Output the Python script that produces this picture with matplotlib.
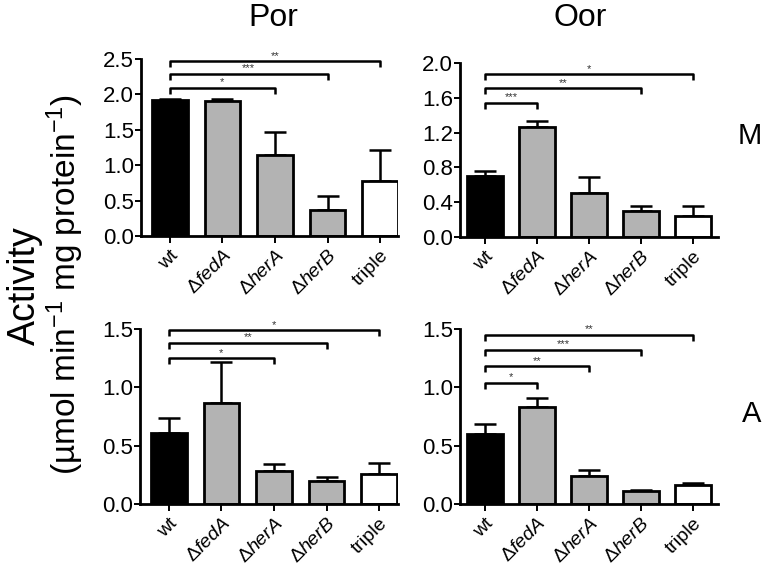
import matplotlib
matplotlib.use("Agg")
import matplotlib.pyplot as plt
import numpy as np

plt.rcParams['font.family'] = ['Liberation Sans', 'DejaVu Sans']
plt.rcParams['mathtext.fontset'] = 'custom'
plt.rcParams['mathtext.rm'] = 'Liberation Sans'
plt.rcParams['mathtext.it'] = 'Liberation Sans:italic'

strains = ["wt", "fedA", "herA", "herB", "triple"]
colors = ["#000000", "#b3b3b3", "#b3b3b3", "#b3b3b3", "#ffffff"]

por_m = [1.92, 1.90, 1.15, 0.37, 0.77]
por_m_err = [0.01, 0.03, 0.32, 0.19, 0.44]
oor_m = [0.70, 1.26, 0.51, 0.30, 0.24]
oor_m_err = [0.06, 0.07, 0.18, 0.06, 0.12]
por_a = [0.61, 0.87, 0.28, 0.20, 0.26]
por_a_err = [0.13, 0.35, 0.06, 0.03, 0.09]
oor_a = [0.60, 0.83, 0.24, 0.11, 0.16]
oor_a_err = [0.09, 0.08, 0.05, 0.01, 0.02]

por_m_sig = [(4, 2.47, "**"), (3, 2.29, "***"), (2, 2.09, "*")]
oor_m_sig = [(4, 1.87, "*"), (3, 1.71, "**"), (1, 1.54, "***")]
por_a_sig = [(4, 1.49, "*"), (3, 1.38, "**"), (2, 1.25, "*")]
oor_a_sig = [(4, 1.45, "**"), (3, 1.32, "***"), (2, 1.18, "**"), (1, 1.04, "*")]

por_m_ticks = [0.0, 0.5, 1.0, 1.5, 2.0, 2.5]
oor_m_ticks = [0.0, 0.4, 0.8, 1.2, 1.6, 2.0]
a_ticks = [0.0, 0.5, 1.0, 1.5]

W, H = 766, 570
fig = plt.figure(figsize=(W / 100, H / 100), dpi=100)

def rect(x0, x1, ytop, ybot):
    return [x0 / W, 1 - ybot / H, (x1 - x0) / W, (ybot - ytop) / H]

panels = [
    (rect(141, 398, 59, 236), por_m, por_m_err, por_m_sig, por_m_ticks, (-0.55, 4.34)),
    (rect(460, 718, 63, 237), oor_m, oor_m_err, oor_m_sig, oor_m_ticks, (-0.48, 4.48)),
    (rect(140, 398, 329, 504), por_a, por_a_err, por_a_sig, a_ticks, (-0.55, 4.36)),
    (rect(460, 718, 329, 504), oor_a, oor_a_err, oor_a_sig, a_ticks, (-0.48, 4.48)),
]

labels = ["wt"] + ["\u0394" + r"$\mathit{" + s + "}$" for s in strains[1:4]] + ["triple"]

for pos, vals, errs, sigs, yt, xl in panels:
    ax = fig.add_axes(pos)
    x = np.arange(len(strains))
    ax.bar(x, vals, width=0.68, color=colors, edgecolor="black", linewidth=2.0, zorder=2)
    ax.errorbar(x, vals, yerr=[np.zeros(len(vals)), errs], fmt="none", ecolor="black",
                elinewidth=1.8, capsize=8, capthick=1.8, zorder=1)
    ymax = yt[-1]
    tick = ymax * 0.035
    for j, ylev, txt in sigs:
        ax.plot([0, 0, j, j], [ylev - tick, ylev, ylev, ylev - tick], color="black",
                lw=1.8, clip_on=False, solid_capstyle="butt")
        ax.text(j / 2, ylev + ymax * 0.003, txt, ha="center", va="bottom", fontsize=8,
                color="#333333")
    ax.set_ylim(0, ymax)
    ax.set_xlim(*xl)
    ax.set_yticks(yt)
    ax.set_yticklabels(["%.1f" % v for v in yt], fontsize=16)
    ax.set_xticks(x)
    ax.set_xticklabels(labels, rotation=45, ha="right", rotation_mode="anchor", fontsize=14)
    for s in ["top", "right"]:
        ax.spines[s].set_visible(False)
    for s in ["left", "bottom"]:
        ax.spines[s].set_linewidth(2.0)
    ax.tick_params(axis="y", length=4, width=1.4, pad=1)
    ax.tick_params(axis="x", length=5, width=1.4, pad=3)

fig.text(273 / W, 1 - 18 / H, "Por", ha="center", va="center", fontsize=23)
fig.text(580 / W, 1 - 18 / H, "Oor", ha="center", va="center", fontsize=23)
fig.text(750 / W, 1 - 136 / H, "M", ha="center", va="center", fontsize=21)
fig.text(752 / W, 1 - 414 / H, "A", ha="center", va="center", fontsize=21)
fig.text(25 / W, 1 - 286 / H, "Activity", rotation=90, ha="center", va="center", fontsize=27)
fig.text(65 / W, 1 - 285 / H, r"(µmol min$^{-1}$ mg protein$^{-1}$)", rotation=90,
         ha="center", va="center", fontsize=24)

fig.savefig("out.png", dpi=100)
